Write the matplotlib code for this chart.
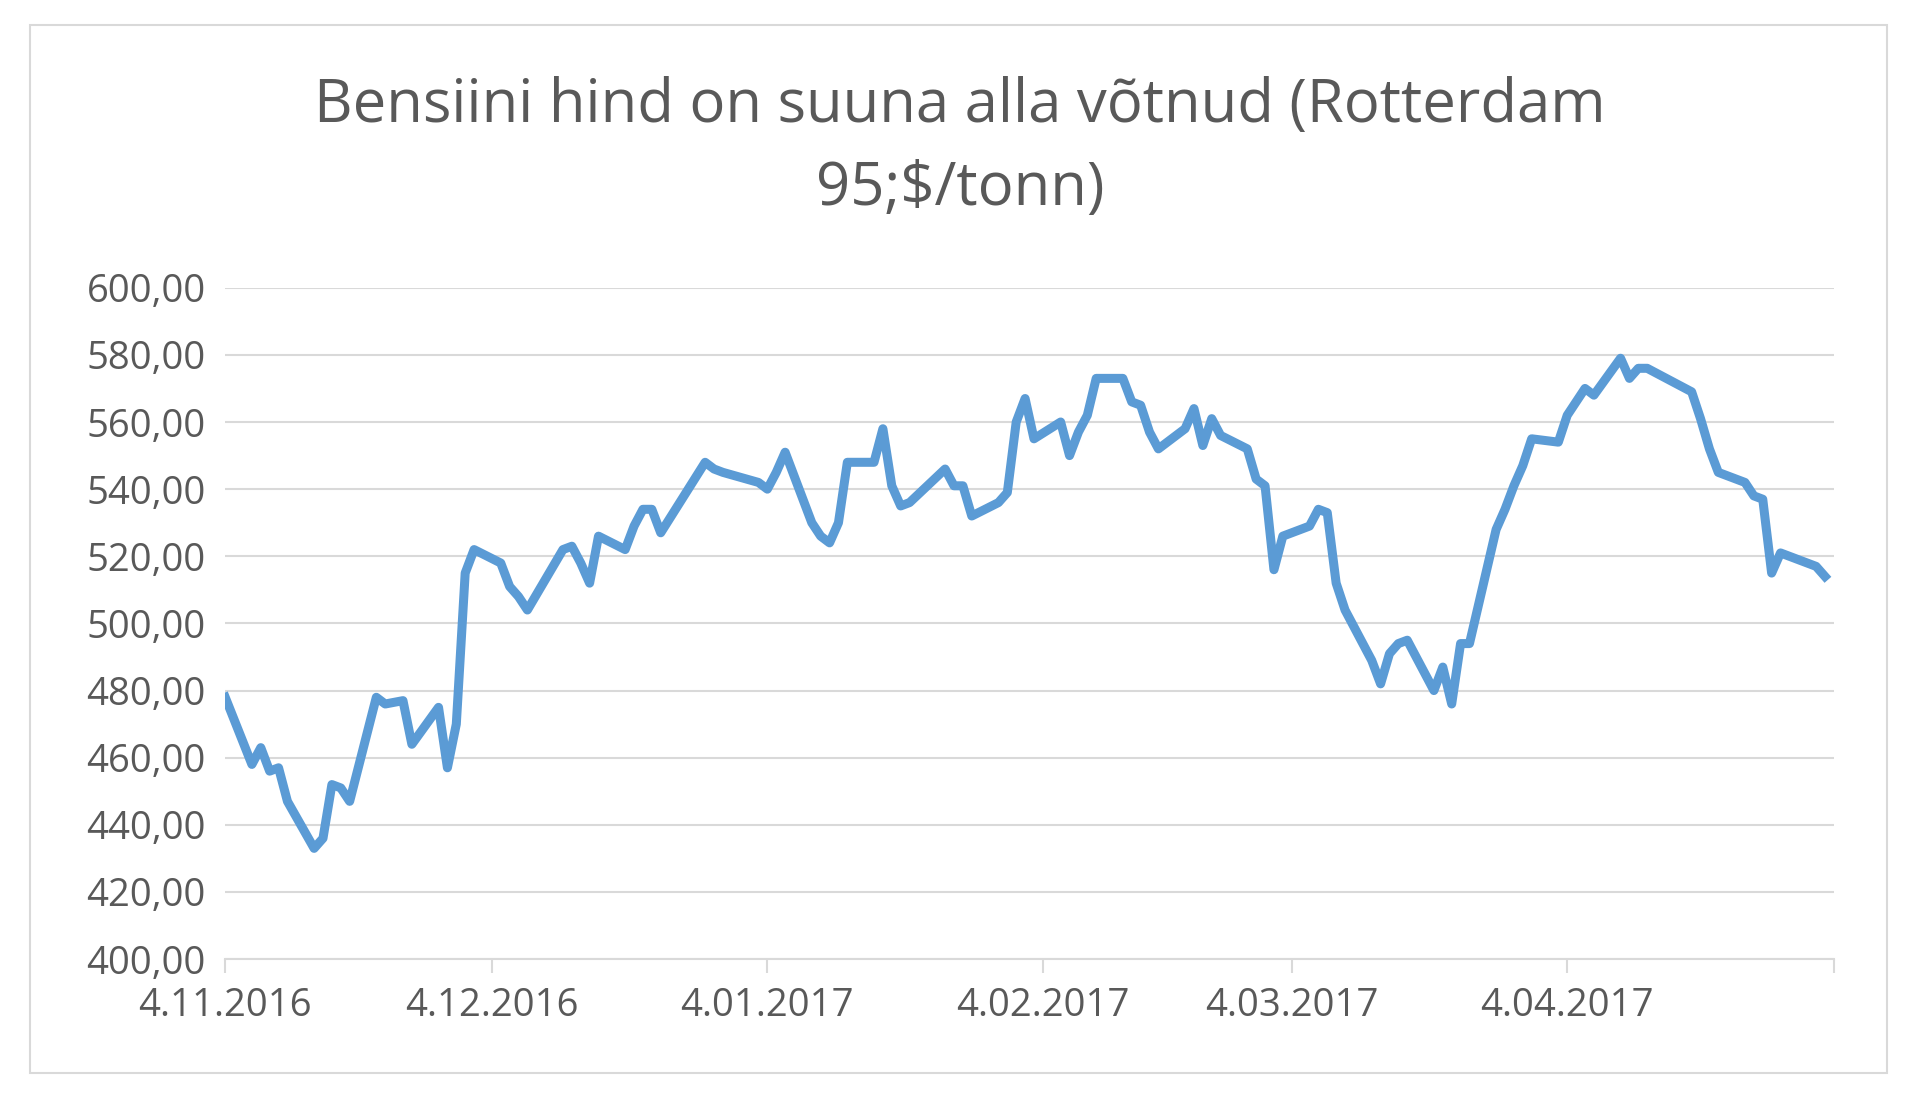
import matplotlib
matplotlib.use("Agg")
import matplotlib.pyplot as plt
import pandas as pd
from matplotlib.patches import Rectangle

dates = ["2016-11-04","2016-11-07","2016-11-08","2016-11-09","2016-11-10","2016-11-11","2016-11-14","2016-11-15","2016-11-16","2016-11-17","2016-11-18",
"2016-11-21","2016-11-22","2016-11-24","2016-11-25","2016-11-28","2016-11-29","2016-11-30","2016-12-01","2016-12-02","2016-12-05","2016-12-06","2016-12-07","2016-12-08",
"2016-12-12","2016-12-13","2016-12-14","2016-12-15","2016-12-16","2016-12-19","2016-12-20","2016-12-21","2016-12-22","2016-12-23","2016-12-28","2016-12-29","2016-12-30",
"2017-01-03","2017-01-04","2017-01-05","2017-01-06","2017-01-09","2017-01-10","2017-01-11","2017-01-12","2017-01-13","2017-01-16","2017-01-17","2017-01-18","2017-01-19","2017-01-20",
"2017-01-24","2017-01-25","2017-01-26","2017-01-27","2017-01-30","2017-01-31","2017-02-01","2017-02-02","2017-02-03","2017-02-06","2017-02-07","2017-02-08","2017-02-09","2017-02-10",
"2017-02-13","2017-02-14","2017-02-15","2017-02-16","2017-02-17","2017-02-20","2017-02-21","2017-02-22","2017-02-23","2017-02-24","2017-02-27","2017-02-28","2017-03-01","2017-03-02","2017-03-03",
"2017-03-06","2017-03-07","2017-03-08","2017-03-09","2017-03-10","2017-03-13","2017-03-14","2017-03-15","2017-03-16","2017-03-17","2017-03-20","2017-03-21","2017-03-22","2017-03-23","2017-03-24",
"2017-03-27","2017-03-28","2017-03-29","2017-03-30","2017-03-31","2017-04-03","2017-04-04","2017-04-05","2017-04-06","2017-04-07","2017-04-10","2017-04-11","2017-04-12","2017-04-13",
"2017-04-18","2017-04-19","2017-04-20","2017-04-21","2017-04-24","2017-04-25","2017-04-26","2017-04-27","2017-04-28","2017-05-02","2017-05-03"]
prices = [478,458,463,456,457,447,433,436,452,451,447,
478,476,477,464,475,457,470,515,522,518,511,508,504,
522,523,518,512,526,522,529,534,534,527,548,546,545,
542,540,545,551,530,526,524,530,548,548,558,541,535,536,
546,541,541,532,536,539,560,567,555,560,550,557,562,573,
573,566,565,557,552,558,564,553,561,556,552,543,541,516,526,
529,534,533,512,504,489,482,491,494,495,480,487,476,494,494,
528,534,541,547,555,554,562,566,570,568,579,573,576,576,
569,561,552,545,542,538,537,515,521,517,514]
tick_dates = ["2016-11-04","2016-12-04","2017-01-04","2017-02-04","2017-03-04","2017-04-04","2017-05-04"]
tick_labels = ["4.11.2016","4.12.2016","4.01.2017","4.02.2017","4.03.2017","4.04.2017",""]
yticks = list(range(400, 601, 20))

plt.rcParams['font.family'] = ['Open Sans', 'DejaVu Sans']
txt = '#595959'
fig = plt.figure(figsize=(19.2, 11.03), dpi=100)
fig.patches.append(Rectangle((24/1560, 1-873/897), (1533-24)/1560, (873-20)/897,
                             transform=fig.transFigure, fill=False, ec='#d9d9d9', lw=1.5))
ax = fig.add_axes([183/1560, 1-780/897, (1490-183)/1560, (780-234)/897])
x = pd.to_datetime(dates)
ax.plot(x, prices, color='#5B9BD5', lw=6.5, solid_joinstyle='round')
ax.set_ylim(400, 600)
ax.set_yticks(yticks)
ax.set_yticklabels([f"{v},00" for v in yticks])
td = pd.to_datetime(tick_dates)
ax.set_xlim(td[0], td[-1])
ax.set_xticks(td)
ax.set_xticklabels(tick_labels)
ax.grid(axis='y', color='#d9d9d9', lw=1.5)
ax.set_axisbelow(True)
for s in ['top', 'right', 'left']:
    ax.spines[s].set_visible(False)
ax.spines['bottom'].set_color('#d9d9d9')
ax.spines['bottom'].set_linewidth(1.5)
ax.tick_params(axis='y', length=0, labelsize=27.5, labelcolor=txt, pad=14)
ax.tick_params(axis='x', length=10, color='#d9d9d9', width=1.5, labelsize=27.5, labelcolor=txt, pad=10)
fig.text(0.5, 0.866, "Bensiini hind on suuna alla võtnud (Rotterdam\n95;$/tonn)",
         ha='center', va='center', fontsize=43, color=txt, linespacing=1.5)
fig.savefig("out.png", dpi=100)
